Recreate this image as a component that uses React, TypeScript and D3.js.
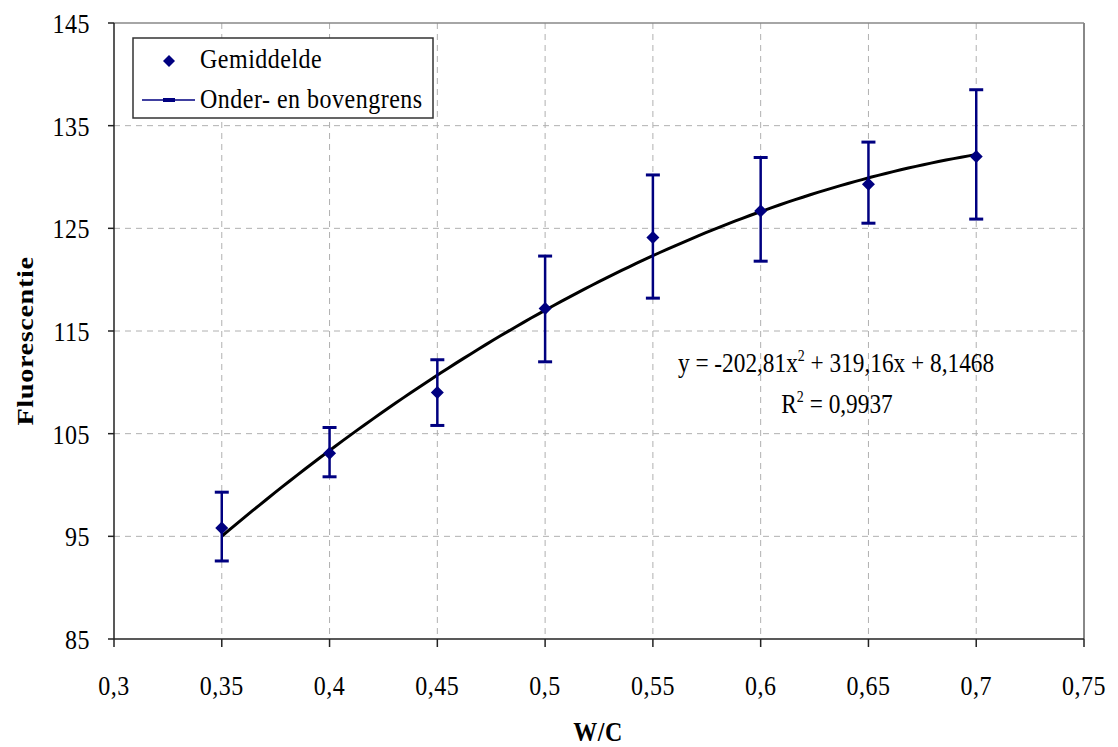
import React from "react";
import * as d3 from "d3";

const wc = [0.35, 0.4, 0.45, 0.5, 0.55, 0.6, 0.65, 0.7];
const meanValues = [95.8, 103.1, 109.0, 117.2, 124.1, 126.7, 129.3, 132.0];
const lowerValues = [92.6, 100.8, 105.8, 112.0, 118.2, 121.8, 125.5, 125.9];
const upperValues = [99.3, 105.6, 112.2, 122.3, 130.2, 131.9, 133.4, 138.5];
const xTicks = [0.3, 0.35, 0.4, 0.45, 0.5, 0.55, 0.6, 0.65, 0.7, 0.75];
const yTicks = [85, 95, 105, 115, 125, 135, 145];
const trendCoefs = [-202.81, 319.16, 8.1468];

const fmt = (v: number) => String(v).replace(".", ",");
const SY = 1.18;
const FS = 24;
const LS = 0.5;

function T(props: {
  x: number;
  y: number;
  anchor?: string;
  size?: number;
  weight?: string;
  rotate?: boolean;
  spacing?: number;
  children: React.ReactNode;
}) {
  const { x, y, anchor = "start", size = FS, weight = "normal", rotate = false, spacing = LS, children } = props;
  return (
    <text
      transform={`translate(${x},${y}) scale(1,${SY})${rotate ? " rotate(-90)" : ""}`}
      textAnchor={anchor}
      fontSize={size}
      fontWeight={weight}
      letterSpacing={spacing}
    >
      {children}
    </text>
  );
}

export default function App() {
  const W = 1118, H = 747;
  const left = 114, right = 1084, top = 23, bottom = 639;
  const x = d3.scaleLinear().domain([0.3, 0.75]).range([left, right]);
  const y = d3.scaleLinear().domain([85, 145]).range([bottom, top]);
  const font = "'Liberation Serif', 'Times New Roman', serif";
  const navy = "#000080";

  const trendXs = d3.range(0, 101).map((i) => 0.35 + (0.35 * i) / 100);
  const trendLine = d3
    .line<number>()
    .x((d) => x(d))
    .y((d) => y(trendCoefs[0] * d * d + trendCoefs[1] * d + trendCoefs[2]))(trendXs);

  const diamond = (cx: number, cy: number, r: number) =>
    `M${cx},${cy - r}L${cx + r},${cy}L${cx},${cy + r}L${cx - r},${cy}Z`;

  return (
    <svg width={W} height={H} style={{ position: "absolute", left: 0, top: 0, background: "#fff" }} fontFamily={font}>
      {/* grid */}
      {xTicks.slice(1, -1).map((t) => (
        <line key={"gx" + t} x1={x(t)} x2={x(t)} y1={top} y2={bottom} stroke="#b0b0b0" strokeWidth={1} strokeDasharray="6,5" />
      ))}
      {yTicks.slice(1, -1).map((t) => (
        <line key={"gy" + t} x1={left} x2={right} y1={y(t)} y2={y(t)} stroke="#b0b0b0" strokeWidth={1} strokeDasharray="6,5" />
      ))}
      {/* borders */}
      <line x1={left} x2={right} y1={top} y2={top} stroke="#888" strokeWidth={1.5} />
      <line x1={right} x2={right} y1={top} y2={bottom} stroke="#888" strokeWidth={2} />
      <line x1={left} x2={left} y1={top} y2={bottom} stroke="#222" strokeWidth={1.5} />
      <line x1={left} x2={right} y1={bottom} y2={bottom} stroke="#222" strokeWidth={1.5} />
      {/* ticks */}
      {yTicks.map((t) => (
        <g key={"yt" + t}>
          <line x1={left - 6} x2={left} y1={y(t)} y2={y(t)} stroke="#222" strokeWidth={1.5} />
          <T x={left - 24} y={y(t) + 10} anchor="end">{t}</T>
        </g>
      ))}
      {xTicks.map((t) => (
        <g key={"xt" + t}>
          <line x1={x(t)} x2={x(t)} y1={bottom} y2={bottom + 8} stroke="#222" strokeWidth={1.5} />
          <T x={x(t)} y={695} anchor="middle">{fmt(t)}</T>
        </g>
      ))}
      {/* axis titles */}
      <T x={598} y={741} anchor="middle" weight="bold">W/C</T>
      <T x={33} y={(top + bottom) / 2 + 10} anchor="middle" weight="bold" rotate>Fluorescentie</T>
      {/* trendline */}
      <path d={trendLine || ""} fill="none" stroke="#000" strokeWidth={3} />
      {/* error bars */}
      {wc.map((w, i) => (
        <g key={"eb" + w} stroke={navy} strokeWidth={2.5}>
          <line x1={x(w)} x2={x(w)} y1={y(lowerValues[i])} y2={y(upperValues[i])} />
          <line x1={x(w) - 7} x2={x(w) + 7} y1={y(lowerValues[i])} y2={y(lowerValues[i])} strokeWidth={3} />
          <line x1={x(w) - 7} x2={x(w) + 7} y1={y(upperValues[i])} y2={y(upperValues[i])} strokeWidth={3} />
        </g>
      ))}
      {/* means */}
      {wc.map((w, i) => (
        <path key={"m" + w} d={diamond(x(w), y(meanValues[i]), 6.5)} fill={navy} />
      ))}
      {/* equation */}
      <T x={836} y={372} anchor="middle" size={23.3} spacing={0}>
        y = -202,81x<tspan dy={-9} fontSize={14}>2</tspan><tspan dy={9}> + 319,16x + 8,1468</tspan>
      </T>
      <T x={837} y={413} anchor="middle" size={23.3} spacing={0}>
        R<tspan dy={-9} fontSize={14}>2</tspan><tspan dy={9}> = 0,9937</tspan>
      </T>
      {/* legend */}
      <rect x={133} y={38} width={300} height={80} fill="#fff" stroke="#333" strokeWidth={1.5} />
      <path d={diamond(169, 61, 6)} fill={navy} />
      <T x={200} y={68}>Gemiddelde</T>
      <line x1={142} x2={195} y1={100} y2={100} stroke={navy} strokeWidth={1.5} />
      <line x1={163} x2={175} y1={100} y2={100} stroke={navy} strokeWidth={4} />
      <T x={200} y={108}>Onder- en bovengrens</T>
    </svg>
  );
}
